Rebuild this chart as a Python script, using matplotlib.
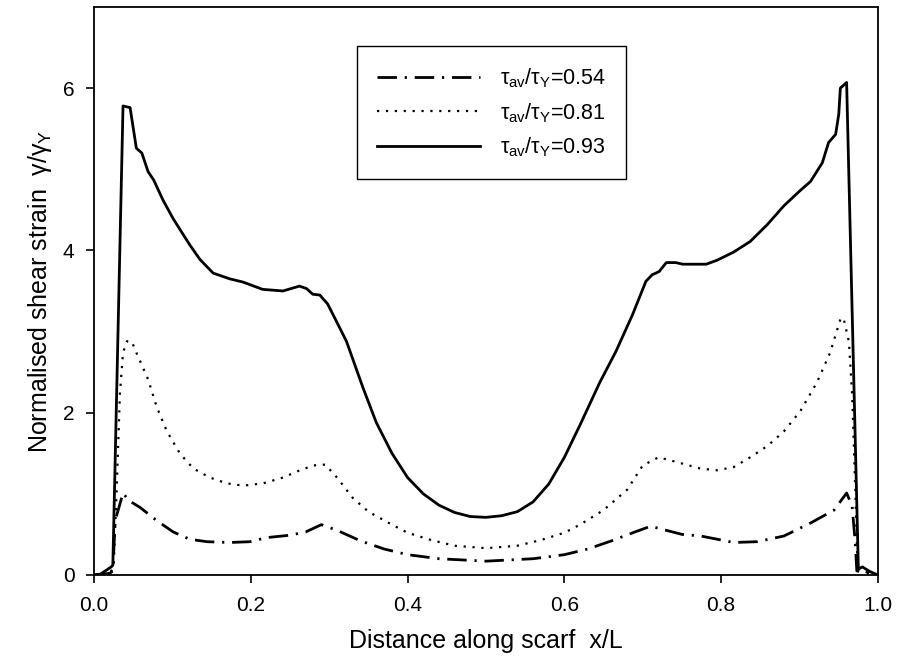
import numpy as np
import matplotlib
matplotlib.use('Agg')
import matplotlib.pyplot as plt

plt.rcParams['font.family'] = ['Liberation Sans', 'DejaVu Sans']
plt.rcParams['mathtext.fontset'] = 'custom'
plt.rcParams['mathtext.rm'] = 'Liberation Sans'
plt.rcParams['mathtext.it'] = 'Liberation Sans'

#%% data

# tau_av/tau_Y = 0.93 (solid)
x_093 = [0, 0.008, 0.016, 0.022, 0.024, 0.037, 0.046, 0.054, 0.061, 0.069, 0.076,
         0.088, 0.101, 0.122, 0.135, 0.152, 0.173, 0.19, 0.215, 0.241, 0.262,
         0.271, 0.279, 0.288, 0.298, 0.309, 0.322, 0.343, 0.36, 0.38, 0.40,
         0.42, 0.44, 0.46, 0.48, 0.50, 0.52, 0.54, 0.56, 0.58, 0.60, 0.62,
         0.645, 0.666, 0.687, 0.704, 0.712, 0.721, 0.730, 0.742, 0.751, 0.781,
         0.795, 0.816, 0.837, 0.859, 0.880, 0.901, 0.914, 0.929, 0.937, 0.946,
         0.950, 0.952, 0.960, 0.975, 0.98, 0.99, 1.0]
y_093 = [0, 0.01, 0.06, 0.10, 0.12, 5.78, 5.76, 5.26, 5.20, 4.97, 4.87,
         4.62, 4.39, 4.07, 3.89, 3.72, 3.65, 3.61, 3.52, 3.50, 3.56,
         3.53, 3.46, 3.45, 3.34, 3.13, 2.88, 2.31, 1.88, 1.50, 1.20,
         1.00, 0.86, 0.77, 0.72, 0.71, 0.73, 0.78, 0.90, 1.12, 1.45, 1.85,
         2.37, 2.76, 3.21, 3.62, 3.70, 3.74, 3.85, 3.85, 3.83, 3.83,
         3.88, 3.98, 4.11, 4.32, 4.55, 4.74, 4.85, 5.08, 5.33, 5.43,
         5.68, 6.00, 6.07, 0.07, 0.10, 0.04, 0]

# tau_av/tau_Y = 0.81 (dotted)
x_081 = [0, 0.02, 0.025, 0.029, 0.033, 0.037, 0.042, 0.048, 0.054, 0.069, 0.08,
         0.093, 0.11, 0.127, 0.148, 0.169, 0.19, 0.216, 0.241, 0.26, 0.28,
         0.295, 0.31, 0.33, 0.35, 0.38, 0.40, 0.43, 0.46, 0.50, 0.54, 0.57,
         0.60, 0.62, 0.65, 0.68, 0.70, 0.72, 0.74, 0.774, 0.795, 0.816, 0.837,
         0.859, 0.88, 0.901, 0.922, 0.939, 0.952, 0.956, 0.963, 0.967, 0.971,
         0.974, 0.99, 1.0]
y_081 = [0, 0.02, 0.10, 1.08, 2.23, 2.74, 2.88, 2.88, 2.74, 2.41, 2.07,
         1.77, 1.49, 1.31, 1.20, 1.13, 1.10, 1.13, 1.20, 1.28, 1.35,
         1.36, 1.20, 0.95, 0.78, 0.62, 0.52, 0.43, 0.36, 0.33, 0.36, 0.43,
         0.52, 0.62, 0.80, 1.05, 1.35, 1.45, 1.40, 1.31, 1.29, 1.33, 1.45,
         1.59, 1.77, 2.02, 2.37, 2.74, 3.15, 3.17, 2.87, 2.23, 1.08,
         0.07, 0.02, 0]

# tau_av/tau_Y = 0.54 (dash-dot)
x_054 = [0, 0.02, 0.024, 0.027, 0.037, 0.044, 0.059, 0.08, 0.101, 0.122, 0.144,
         0.173, 0.199, 0.22, 0.25, 0.27, 0.29, 0.31, 0.34, 0.37, 0.40, 0.44,
         0.50, 0.56, 0.60, 0.63, 0.66, 0.69, 0.71, 0.73, 0.75, 0.774, 0.795,
         0.816, 0.846, 0.88, 0.914, 0.944, 0.96, 0.967, 0.971, 0.973, 0.99, 1.0]
y_054 = [0, 0.02, 0.05, 0.67, 1.01, 0.92, 0.83, 0.67, 0.53, 0.44, 0.41,
         0.40, 0.41, 0.46, 0.49, 0.53, 0.62, 0.55, 0.42, 0.32, 0.25, 0.20,
         0.17, 0.20, 0.25, 0.32, 0.42, 0.53, 0.60, 0.55, 0.50, 0.48, 0.44,
         0.40, 0.41, 0.48, 0.64, 0.80, 1.01, 0.85, 0.40, 0.05, 0.02, 0]

labels = [r'$\tau_{\rm av}/\tau_{\rm Y}$=0.54',
          r'$\tau_{\rm av}/\tau_{\rm Y}$=0.81',
          r'$\tau_{\rm av}/\tau_{\rm Y}$=0.93']

xticks = [0.0, 0.2, 0.4, 0.6, 0.8, 1.0]
yticks = [0, 2, 4, 6]

#%% plot
fig = plt.figure(figsize=(8.98, 6.67), dpi=100)
ax = fig.add_axes([0.1047, 0.138, 0.873, 0.8515])

ax.plot(x_054, y_054, color='black', lw=2.0, linestyle=(0, (7, 2.8, 0.8, 2.8)), label=labels[0])
ax.plot(x_081, y_081, color='black', lw=1.6, linestyle=(0, (1, 3)), label=labels[1])
ax.plot(x_093, y_093, color='black', lw=2.0, label=labels[2])

ax.set_xlim(0, 1.0)
ax.set_ylim(0, 7)
ax.set_xticks(xticks)
ax.set_xticklabels(['%.1f' % v for v in xticks])
ax.set_yticks(yticks)
ax.tick_params(direction='out', length=6, width=1.2, labelsize=15,
               top=False, right=False)
ax.tick_params(axis='x', pad=9)
ax.tick_params(axis='y', pad=8)
for s in ax.spines.values():
    s.set_linewidth(1.3)

ax.set_xlabel('Distance along scarf  x/L', fontsize=18, labelpad=10)
ax.set_ylabel(r'Normalised shear strain  $\gamma/\gamma_{\rm Y}$', fontsize=18, labelpad=6)

leg = ax.legend(loc='upper left', bbox_to_anchor=(0.335, 0.931), fontsize=15.5,
                handlelength=4.8, handletextpad=0.9, labelspacing=0.5,
                borderpad=0.95, borderaxespad=0, fancybox=False, framealpha=1)
leg.get_frame().set_edgecolor('black')
leg.get_frame().set_linewidth(1.0)

fig.savefig('out.png', dpi=100)
